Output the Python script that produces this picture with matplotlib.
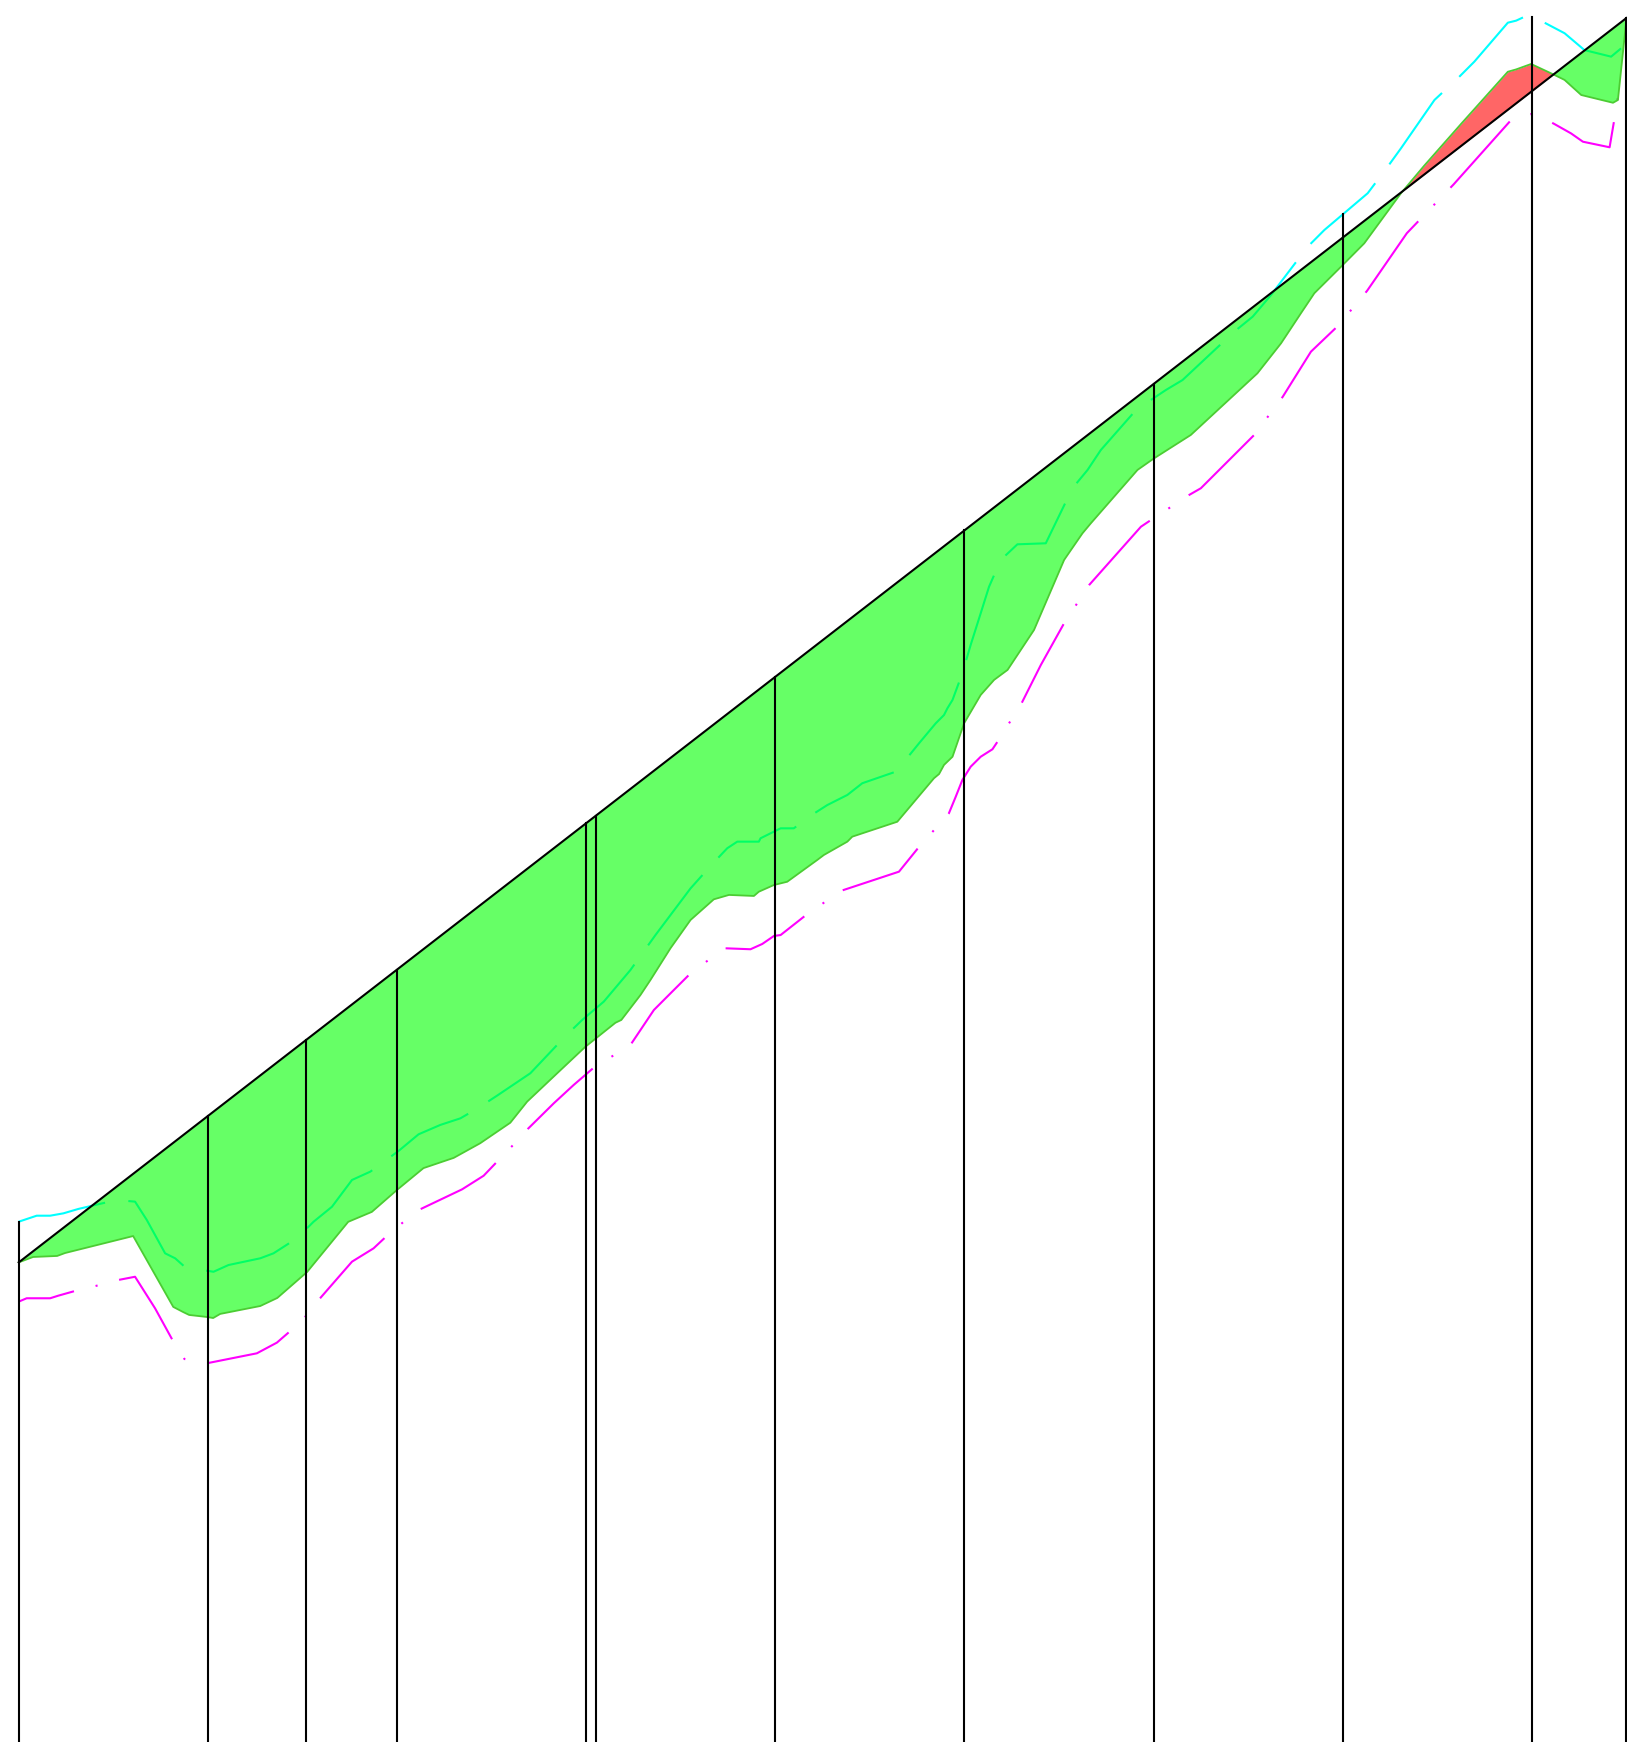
import numpy as np
import matplotlib
matplotlib.use("Agg")
import matplotlib.pyplot as plt

plt.rcParams['lines.scale_dashes'] = False

# observed curve (fill boundary)
obs_x = [0.0, 0.076, 0.203, 0.245, 0.605, 0.817, 0.869, 0.901, 0.996, 1.028, 1.065,
         1.277, 1.367, 1.525, 1.742, 1.867, 2.0, 2.14, 2.30, 2.44, 2.599, 2.688,
         2.847, 2.996, 3.155, 3.186, 3.287, 3.34, 3.446, 3.552, 3.675, 3.755, 3.887,
         3.913, 3.993, 4.063, 4.222, 4.257, 4.381, 4.407, 4.645, 4.839, 4.866, 4.892,
         4.937, 4.998, 5.086, 5.157, 5.228, 5.368, 5.527, 5.545, 5.624, 5.668, 5.915,
         6.0, 6.197, 6.549, 6.674, 6.779, 6.85, 6.991, 7.114, 7.308, 7.43, 7.626,
         7.873, 7.917, 7.996, 8.102, 8.173, 8.261, 8.429, 8.455, 8.50]
obs_y = [0.0, 0.037, 0.044, 0.064, 0.18, -0.304, -0.339, -0.359, -0.373, -0.38, -0.352,
         -0.298, -0.243, -0.065, 0.277, 0.345, 0.495, 0.644, 0.714, 0.814, 0.954, 1.098,
         1.292, 1.473, 1.637, 1.656, 1.826, 1.929, 2.146, 2.339, 2.48, 2.51, 2.503,
         2.532, 2.578, 2.6, 2.749, 2.783, 2.874, 2.908, 3.01, 3.307, 3.336, 3.398,
         3.454, 3.682, 3.876, 3.979, 4.047, 4.32, 4.798, 4.832, 4.98, 5.048, 5.413,
         5.49, 5.652, 6.073, 6.278, 6.483, 6.62, 6.801, 6.961, 7.303, 7.49, 7.777,
         8.133, 8.149, 8.186, 8.122, 8.077, 7.974, 7.921, 7.94, 8.49]

# upper band (cyan, dashed)
up_x = [0.0, 0.095, 0.166, 0.236, 0.315, 0.43, 0.519, 0.615, 0.677, 0.774, 0.827, 0.88,
        0.915, 1.03, 1.109, 1.277, 1.347, 1.471, 1.559, 1.656, 1.762, 1.859, 2.008,
        2.114, 2.229, 2.335, 2.432, 2.529, 2.705, 2.891, 2.979, 3.093, 3.234, 3.367,
        3.552, 3.667, 3.746, 3.799, 3.913, 3.922, 4.028, 4.098, 4.178, 4.275, 4.381,
        4.46, 4.637, 4.681, 4.76, 4.848, 4.892, 4.91, 4.937, 4.989, 5.033, 5.086, 5.13,
        5.192, 5.28, 5.43, 5.571, 5.651, 5.721, 5.915, 5.959, 6.065, 6.153, 6.426,
        6.524, 6.621, 6.815, 6.903, 7.132, 7.238, 7.308, 7.485, 7.608, 7.696, 7.873,
        7.917, 7.97, 8.005, 8.067, 8.173, 8.278, 8.419, 8.472]
up_y = [0.278, 0.319, 0.319, 0.335, 0.365, 0.40, 0.426, 0.415, 0.29, 0.062, 0.028, -0.033,
        -0.04, -0.064, -0.018, 0.028, 0.062, 0.165, 0.278, 0.38, 0.563, 0.62, 0.761,
        0.875, 0.939, 0.984, 1.057, 1.139, 1.292, 1.546, 1.656, 1.781, 1.997, 2.237,
        2.555, 2.721, 2.829, 2.874, 2.874, 2.897, 2.965, 2.965, 3.044, 3.124, 3.193,
        3.273, 3.352, 3.42, 3.546, 3.682, 3.739, 3.785, 3.842, 4.024, 4.218, 4.434, 4.615,
        4.798, 4.905, 4.912, 5.288, 5.413, 5.549, 5.834, 5.868, 5.959, 6.027, 6.357,
        6.46, 6.608, 6.938, 7.052, 7.303, 7.485, 7.61, 7.94, 8.088, 8.202, 8.468,
        8.482, 8.514, 8.509, 8.468, 8.396, 8.281, 8.236, 8.293]

# lower band (magenta, dash-dot)
lo_x = [0.0, 0.042, 0.166, 0.21, 0.298, 0.413, 0.527, 0.615, 0.721, 0.815, 0.876, 0.995,
        1.259, 1.365, 1.432, 1.515, 1.59, 1.762, 1.876, 1.938, 2.032, 2.123, 2.344,
        2.458, 2.529, 2.614, 2.691, 2.829, 2.934, 3.04, 3.234, 3.287, 3.358, 3.446,
        3.543, 3.728, 3.869, 3.931, 3.993, 4.028, 4.151, 4.345, 4.654, 4.751, 4.918,
        4.954, 4.989, 5.033, 5.086, 5.148, 5.175, 5.302, 5.404, 5.527, 5.66, 5.933,
        5.986, 6.188, 6.25, 6.532, 6.683, 6.832, 6.974, 7.129, 7.339, 7.586, 7.89,
        7.907, 8.013, 8.119, 8.207, 8.27, 8.411, 8.437, 8.455]
lo_y = [-0.268, -0.245, -0.245, -0.227, -0.195, -0.159, -0.12, -0.098, -0.314, -0.535,
        -0.66, -0.689, -0.621, -0.548, -0.473, -0.371, -0.25, 0.005, 0.096, 0.171, 0.274,
        0.363, 0.499, 0.592, 0.688, 0.802, 0.911, 1.087, 1.212, 1.33, 1.485, 1.587,
        1.724, 1.838, 1.963, 2.146, 2.139, 2.175, 2.23, 2.236, 2.361, 2.537, 2.669,
        2.824, 3.068, 3.181, 3.295, 3.386, 3.454, 3.505, 3.557, 3.819, 4.081, 4.366,
        4.628, 5.025, 5.071, 5.242, 5.288, 5.652, 5.913, 6.221, 6.396, 6.637, 7.03,
        7.363, 7.803, 7.815, 7.849, 7.776, 7.712, 7.655, 7.617, 7.815, 7.96]

# positions of the vertical markers
mark_x = [0, 1, 1.52, 2, 3, 3.05, 4, 5, 6, 7, 8, 8.5]

obs_x = np.array(obs_x)
obs_y = np.array(obs_y)

fig = plt.figure(figsize=(16.27, 17.42), dpi=100)
ax = fig.add_axes([0, 0, 1, 1])

# bands sit underneath the translucent fill
ax.plot(up_x, up_y, color='cyan', lw=1.5, linestyle=(0, (64, 17)), zorder=1)
ax.plot(lo_x, lo_y, color='magenta', lw=1.5, linestyle=(23, (64, 16, 1.5, 16)), zorder=1)

ax.fill_between(obs_x, obs_y, obs_x, where=obs_y <= obs_x, interpolate=True,
                color='lime', alpha=0.6, linewidth=0, zorder=2)
ax.fill_between(obs_x, obs_y, obs_x, where=obs_y > obs_x, interpolate=True,
                color='red', alpha=0.6, linewidth=0, zorder=2)
ax.plot(obs_x, obs_y, color='#4ccc33', lw=1.3, zorder=2.5)

# identity line
ax.plot([0, 8.5], [0, 8.5], color='black', lw=1.5, zorder=3)

# vertical markers from the higher of identity / upper band, down past the bottom
for mx in mark_x:
    top = max(mx, np.interp(mx, up_x, up_y))
    ax.plot([mx, mx], [-4, top], color='black', lw=1.5, zorder=3)

ax.set_xlim(-0.099, 8.503)
ax.set_ylim(-3.276, 8.623)
ax.axis('off')

fig.savefig('out.png', dpi=100)
